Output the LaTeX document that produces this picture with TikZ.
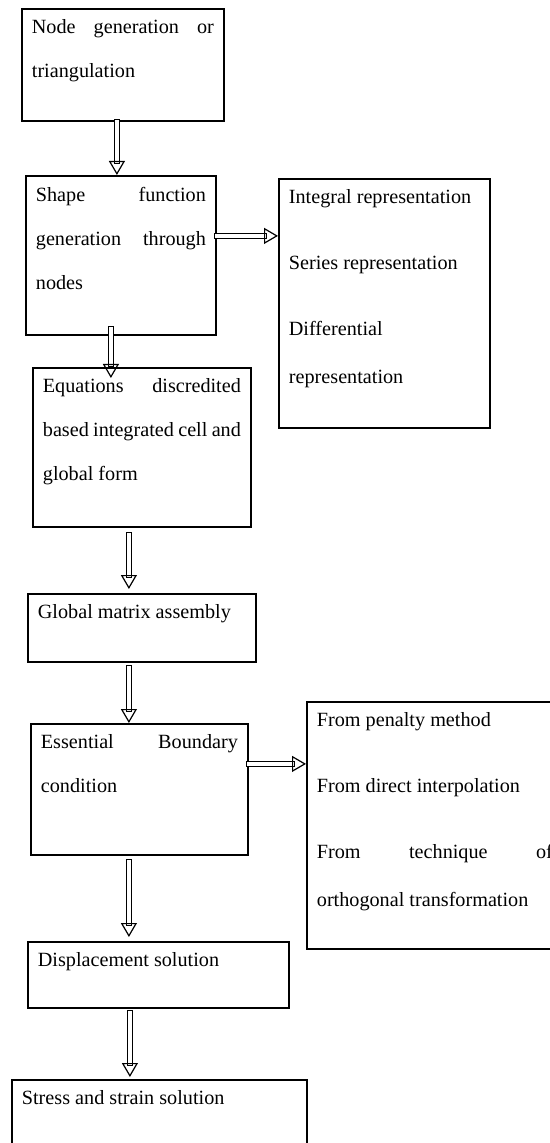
\documentclass[tikz,border=0pt]{standalone}
\usepackage{fontspec}
\setmainfont{Liberation Serif}
\usetikzlibrary{arrows.meta}

\tikzset{
  stage/.style={draw, line width=0.9pt, anchor=north west, inner xsep=5pt, inner ysep=5.5pt, font=\fontsize{10.1}{22}\selectfont},
  flow/.style={double, double distance=1.9pt, line width=0.6pt, line cap=rect, -{Triangle[open, length=7pt, width=8pt, line width=0.6pt]}}
}
% box text: width, height, text (set at the top of the box)
\newcommand{\boxtxt}[3]{\begin{minipage}[c][\dimexpr#2-11pt\relax][t]{\dimexpr#1-10pt\relax}#3\end{minipage}}

\begin{document}
\begin{tikzpicture}[x=0.5pt, y=-0.5pt]
\useasboundingbox (0,0) rectangle (550,1143);

\node (gen) at (21,8) [stage]{\boxtxt{101pt}{56pt}{Node generation or\linebreak triangulation}};

\node (shape) at (25,175) [stage]{\boxtxt{95pt}{79.5pt}{Shape function\linebreak generation through\linebreak nodes}};

\node (repr) at (278,178) [stage]{\boxtxt{105.5pt}{124.5pt}{Integral representation\\[11pt]Series representation\\[11pt]Differential\\[2pt]representation}};

\node (eq) at (32,367) [stage]{\boxtxt{109pt}{79.5pt}{Equations discredited\linebreak based integrated cell and\linebreak global form}};

\node (glob) at (27,593) [stage]{\boxtxt{114pt}{34pt}{Global matrix assembly}};

\node (ess) at (30,723) [stage]{\boxtxt{108.5pt}{65.5pt}{Essential Boundary\linebreak condition}};

\node (bc) at (306,701) [stage]{\boxtxt{128pt}{123.5pt}{From penalty method\\[11pt]From direct interpolation\par\vspace{9pt}{\baselineskip=24pt From technique of\linebreak orthogonal transformation\par}}};

\node (disp) at (27,941) [stage]{\boxtxt{130.5pt}{33pt}{Displacement solution}};

\node (stress) at (11,1079) [stage]{\boxtxt{147.5pt}{50pt}{Stress and strain solution}};

\draw [flow] ([xshift=-3pt]gen.south) -- ([xshift=-3pt]gen.south |- shape.north);
\draw [flow] ([yshift=9.75pt]shape.east) -- ([yshift=9.75pt]shape.east -| repr.west);
\draw [flow] ([xshift=-5pt, yshift=3.5pt]shape.south) -- ([xshift=-5pt, yshift=-5.5pt]shape.south |- eq.north);
\draw [flow] ([xshift=-6.5pt, yshift=-3.5pt]eq.south) -- ([xshift=-6.5pt, yshift=2pt]eq.south |- glob.north);
\draw [flow] ([xshift=-6.5pt, yshift=-2.5pt]glob.south) -- ([xshift=-6.5pt]glob.south |- ess.north);
\draw [flow] ([yshift=12.75pt]ess.east) -- ([yshift=12.75pt]ess.east -| bc.west);
\draw [flow] ([xshift=-5.25pt, yshift=-3pt]ess.south) -- ([xshift=-5.25pt, yshift=2pt]ess.south |- disp.north);
\draw [flow] ([xshift=-14.25pt, yshift=-2pt]disp.south) -- ([xshift=-14.25pt, yshift=1pt]disp.south |- stress.north);

\end{tikzpicture}
\end{document}
